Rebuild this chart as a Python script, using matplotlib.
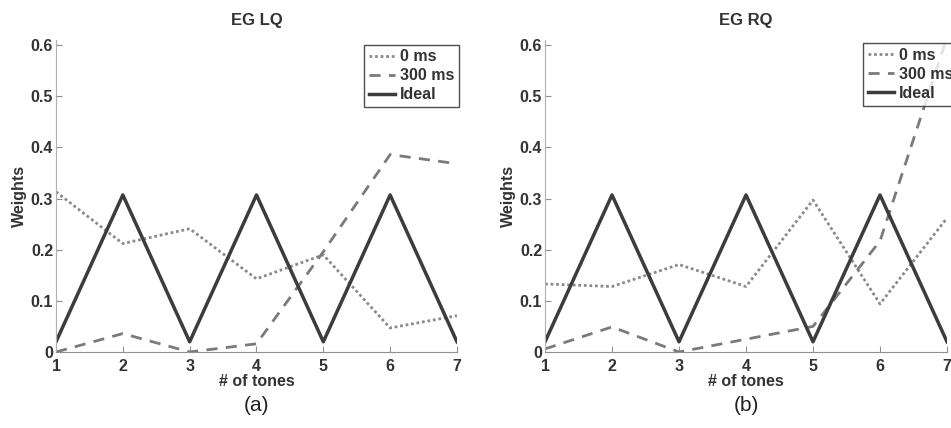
import matplotlib
matplotlib.use("Agg")
import matplotlib.pyplot as plt

plt.rcParams["font.family"] = ["Liberation Sans", "DejaVu Sans"]

tones = [1, 2, 3, 4, 5, 6, 7]
x_ticks = [1, 2, 3, 4, 5, 6, 7]
y_ticks = [0, 0.1, 0.2, 0.3, 0.4, 0.5, 0.6]
y_tick_labels = ["0", "0.1", "0.2", "0.3", "0.4", "0.5", "0.6"]

ideal = [0.02, 0.307, 0.02, 0.307, 0.02, 0.307, 0.02]

lq_0ms = [0.313, 0.212, 0.241, 0.143, 0.190, 0.047, 0.071]
lq_300ms = [0.0, 0.036, 0.0, 0.016, 0.196, 0.386, 0.368]

rq_0ms = [0.133, 0.128, 0.171, 0.128, 0.297, 0.094, 0.262]
rq_300ms = [0.006, 0.049, 0.0, 0.025, 0.050, 0.217, 0.615]

panels = [
    ("EG LQ", "(a)", lq_0ms, lq_300ms, [0.0589, 0.1776, 0.4216, 0.729], (1.005, 0.985)),
    ("EG RQ", "(b)", rq_0ms, rq_300ms, [0.5731, 0.1776, 0.4227, 0.729], (1.028, 0.99)),
]

TXT = "#333333"
FS = 11.5
fig = plt.figure(figsize=(9.51, 4.28), dpi=100)

for title, caption, d0, d300, rect, anchor in panels:
    ax = fig.add_axes(rect)
    ax.plot(tones, d0, linestyle=(0, (1, 1)), color="#8a8a8a", lw=2.0, label="0 ms")
    ax.plot(tones, d300, linestyle=(0, (4, 3)), color="#7a7a7a", lw=2.0, label="300 ms")
    ax.plot(tones, ideal, linestyle="-", color="#3c3c3c", lw=2.5, label="Ideal")
    ax.set_xlim(1, 7)
    ax.set_ylim(0, 0.61)
    ax.set_xticks(x_ticks)
    ax.set_yticks(y_ticks)
    ax.set_yticklabels(y_tick_labels)
    for s in ("top", "right"):
        ax.spines[s].set_visible(False)
    ax.spines["left"].set_color("#b0b0b0")
    ax.spines["bottom"].set_color("#909090")
    ax.tick_params(direction="in", length=4, colors="#909090", labelcolor=TXT,
                   labelsize=FS)
    ax.tick_params(axis="x", pad=5)
    ax.tick_params(axis="y", pad=2)
    for lab in ax.get_xticklabels() + ax.get_yticklabels():
        lab.set_fontweight("bold")
    ax.set_xlabel("# of tones", fontsize=FS, fontweight="bold", color=TXT, labelpad=0)
    ax.set_ylabel("Weights", fontsize=FS, fontweight="bold", color=TXT, labelpad=3)
    ax.set_title(title, fontsize=12, fontweight="bold", color=TXT, pad=11)
    leg = ax.legend(loc="upper right", bbox_to_anchor=anchor, fontsize=FS,
                    frameon=True, fancybox=False, borderpad=0.3, labelspacing=0.25,
                    handlelength=1.65, handletextpad=0.3, borderaxespad=0)
    leg.get_frame().set_edgecolor("#222222")
    leg.get_frame().set_linewidth(1.0)
    for t in leg.get_texts():
        t.set_fontweight("bold")
        t.set_color(TXT)
    ax.text(0.5, -0.17, caption, transform=ax.transAxes, ha="center", va="center",
            fontsize=15, color="#222222")

fig.savefig("out.png", dpi=100)
